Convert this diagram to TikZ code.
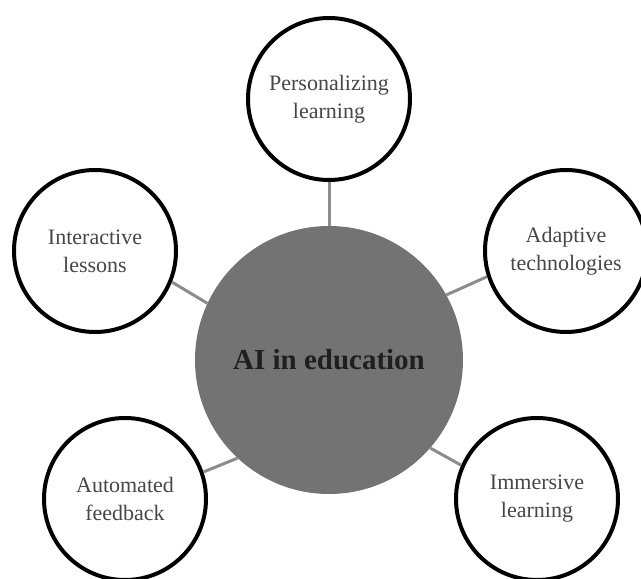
\documentclass[tikz,border=0pt]{standalone}
\usepackage{fontspec}
\setmainfont{Liberation Serif}
\usepackage{tikz}
\tikzset{
  topic/.style={circle,draw=black,line width=4pt,fill=white,minimum size=162pt,inner sep=0pt,align=center,
    font=\fontsize{22}{28}\selectfont,text=black!72},
  hub/.style={circle,fill=black!55,minimum size=268pt,inner sep=0pt,
    font=\fontsize{29}{34}\selectfont\bfseries,text=black!88},
  link/.style={color=black!45,line width=3pt}
}

\begin{document}
\begin{tikzpicture}[scale=1.000000,x=1pt,y=1pt]
\useasboundingbox (0.000000, 0.000000) rectangle (641.000000, 579.000000);
% Drawing the hub
\node[hub] (hub) at (329.000000, 219.000000) {AI in education};
% Drawing the topics
% Topic 1: top
\node[topic] (pers) at (329.000000, 480.000000) {Personalizing\\learning};
% Topic 2: upper left
\node[topic] (inter) at (95.000000, 328.000000) {Interactive\\lessons};
% Topic 3: upper right
\node[topic] (adapt) at (566.000000, 328.000000) {Adaptive\\technologies};
% Topic 4: lower left
\node[topic] (auto) at (125.000000, 80.000000) {Automated\\feedback};
% Topic 5: lower right
\node[topic] (immer) at (537.000000, 80.000000) {Immersive\\learning};
% Done with topics; drawing links
\draw[link] (hub.90) -- (pers.270);
\draw[link] (hub.155) -- (inter.-22);
\draw[link] (hub.29) -- (adapt.198);
\draw[link] (hub.227) -- (auto.19);
\draw[link] (hub.-41) -- (immer.156);
% Done with links
\end{tikzpicture}
\end{document}
